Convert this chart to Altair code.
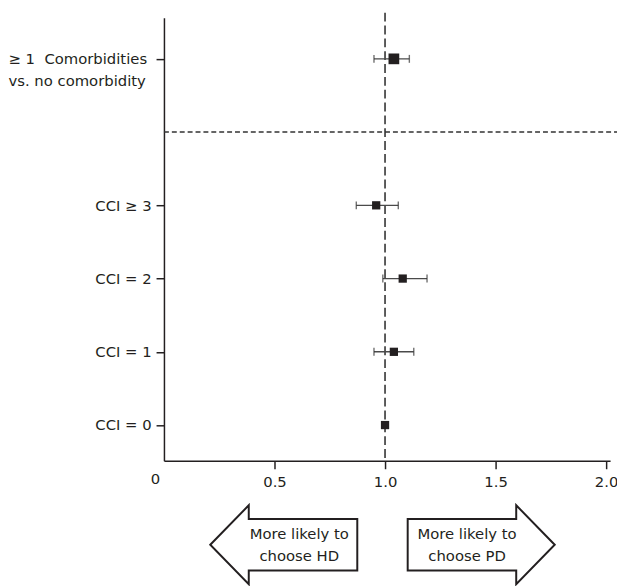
import altair as alt
import pandas as pd

# ---- data ----
rows = ["≥ 1\u00a0\u00a0Comorbidities|vs. no comorbidity", "CCI ≥ 3", "CCI = 2", "CCI = 1", "CCI = 0"]
odds = [1.04, 0.96, 1.08, 1.04, 1.00]
ci_low = [0.95, 0.87, 0.99, 0.95, None]
ci_high = [1.11, 1.06, 1.19, 1.13, None]
gap = " "  # empty slot where the horizontal separator sits
y_domain = [rows[0], gap] + rows[1:]

x_ticks = [0, 0.5, 1.0, 1.5, 2.0]
ref_value = [1.0]

arrow_labels = ["More likely to|choose HD", "More likely to|choose PD"]
arrow_at = [0.542, 1.435]      # arrow centres on the odds-ratio axis
arrow_text_at = [0.612, 1.371]  # text centres on the odds-ratio axis

INK = "#231f20"
FONT = "DejaVu Sans"
FS = 15

df = pd.DataFrame({"row": rows, "or": odds, "lo": ci_low, "hi": ci_high})
df_ci = df.dropna()

yscale = alt.Scale(type="point", domain=y_domain, padding=0.5255, align=0.535)
xscale = alt.Scale(domain=[0, 2.018], nice=False, zero=False)

is_multi = "indexof(datum.value, '|') >= 0"
yaxis = alt.Axis(
    title=None, values=rows, grid=False,
    labelExpr="split(datum.label, '|')",
    labelFont=FONT, labelFontSize=FS, labelColor=INK, labelLineHeight=22,
    labelOverlap=False, labelLimit=400,
    labelAlign={"condition": {"test": is_multi, "value": "left"}, "value": "right"},
    labelPadding={"condition": {"test": is_multi, "value": 150}, "value": 5},
    domainColor=INK, domainWidth=1.5, tickColor=INK, tickWidth=1.5, tickSize=8,
)
xaxis = alt.Axis(
    title=None, values=x_ticks, grid=False, labelFlush=False,
    labelExpr="datum.value == 0 ? '0' : format(datum.value, '.1f')",
    labelFont=FONT, labelFontSize=FS, labelColor=INK,
    labelOffset={"condition": {"test": "datum.value == 0", "value": -9}, "value": 0},
    labelPadding={"condition": {"test": "datum.value == 0", "value": 3}, "value": 6},
    tickOpacity={"condition": {"test": "datum.value == 0", "value": 0}, "value": 1},
    domainColor=INK, domainWidth=1.5, tickColor=INK, tickWidth=1.5, tickSize=8,
)

base_y = alt.Y("row:N", scale=yscale, axis=yaxis, sort=None)

ref_line = alt.Chart(pd.DataFrame({"v": ref_value})).mark_rule(
    strokeDash=[9, 4], color="#333333", strokeWidth=1.6
).encode(x=alt.X("v:Q", scale=xscale, axis=xaxis), y=alt.value(-5), y2=alt.value(449))

sep = alt.Chart(pd.DataFrame({"row": [gap]})).mark_rule(
    strokeDash=[5, 3], color="#333333", strokeWidth=1.5
).encode(y=alt.Y("row:N", scale=yscale, axis=yaxis), x=alt.value(0), x2=alt.value(460))

ci = alt.Chart(df_ci).mark_rule(color="#4a4a4a", strokeWidth=1.4).encode(
    y=base_y, x=alt.X("lo:Q", scale=xscale, axis=xaxis), x2="hi:Q"
)
cap_lo = alt.Chart(df_ci).mark_tick(color="#333333", size=8, thickness=1.4).encode(
    y=base_y, x=alt.X("lo:Q", scale=xscale, axis=xaxis)
)
cap_hi = alt.Chart(df_ci).mark_tick(color="#333333", size=8, thickness=1.4).encode(
    y=base_y, x=alt.X("hi:Q", scale=xscale, axis=xaxis)
)
pts = alt.Chart(df).mark_point(shape="square", filled=True, opacity=1, color=INK).encode(
    y=base_y, x=alt.X("or:Q", scale=xscale, axis=xaxis),
    size=alt.condition(alt.datum.row == rows[0], alt.value(118), alt.value(70)),
)

left_path = "M -0.993 0 L -0.473 -0.533 L -0.473 -0.347 L 0.993 -0.347 L 0.993 0.347 L -0.473 0.347 L -0.473 0.533 Z"
right_path = "M 0.993 0 L 0.473 -0.533 L 0.473 -0.347 L -0.993 -0.347 L -0.993 0.347 L 0.473 0.347 L 0.473 0.533 Z"

arr_df = pd.DataFrame({"ax": arrow_at, "tx": arrow_text_at, "t": arrow_labels, "dir": ["HD", "PD"]})
arrows = alt.Chart(arr_df).mark_point(
    fill="white", stroke=INK, strokeWidth=2, opacity=1, size=22500, strokeJoin="miter"
).encode(
    x=alt.X("ax:Q", scale=xscale, axis=xaxis), y=alt.value(534),
    shape=alt.Shape("dir:N", scale=alt.Scale(domain=["HD", "PD"], range=[left_path, right_path]), legend=None),
)
arrow_text = alt.Chart(arr_df).transform_calculate(lines="split(datum.t, '|')").mark_text(
    font=FONT, fontSize=FS, lineHeight=22, align="center", baseline="middle", color=INK
).encode(x=alt.X("tx:Q", scale=xscale, axis=xaxis), y=alt.value(523), text="lines:N")

chart = alt.layer(ref_line, sep, ci, cap_lo, cap_hi, pts, arrows, arrow_text).properties(
    width=452, height=449,
    padding={"left": 158, "top": 6, "right": 7, "bottom": 123},
    autosize=alt.AutoSizeParams(type="none"),
).configure_view(stroke=None)

chart.save("out.html", embed_options={"renderer": "svg", "actions": False})
